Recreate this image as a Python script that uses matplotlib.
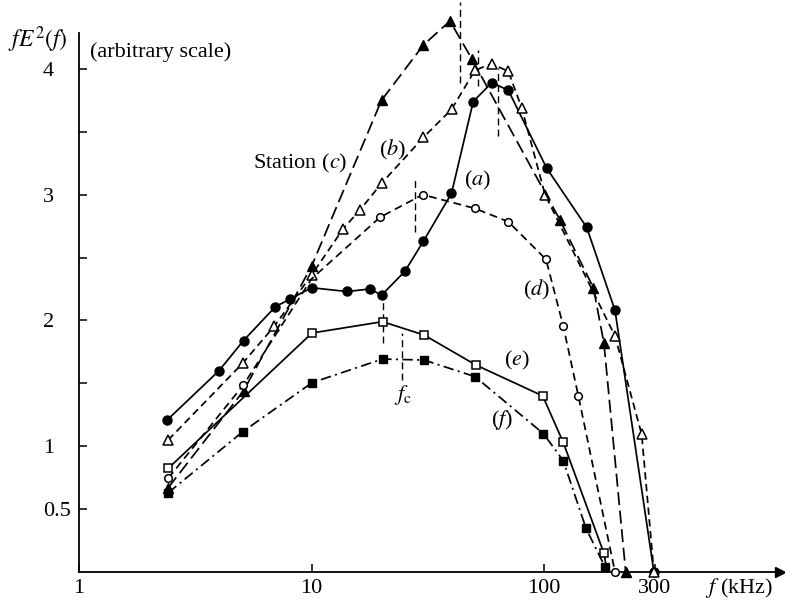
import matplotlib
matplotlib.use('Agg')
import matplotlib.pyplot as plt

plt.rcParams['font.family'] = 'Liberation Serif'
plt.rcParams['mathtext.fontset'] = 'stix'

# frequencies in kHz, fE^2(f) in arbitrary units
fa = [2.4, 4.0, 5.1, 7.0, 8.1, 10, 14.2, 17.9, 20, 25.2, 30.3, 40, 49.6, 59.6, 70.2, 102.7, 152.6, 202, 297]
ya = [1.21, 1.60, 1.84, 2.11, 2.17, 2.26, 2.23, 2.25, 2.20, 2.39, 2.63, 3.01, 3.74, 3.89, 3.83, 3.21, 2.74, 2.08, 0]

fb = [2.42, 5.06, 6.92, 10, 13.7, 16.2, 20, 30.3, 40.1, 50.5, 59.6, 70.2, 80.2, 101, 202, 263, 297]
yb = [1.05, 1.66, 1.955, 2.36, 2.73, 2.88, 3.09, 3.455, 3.68, 3.99, 4.04, 3.98, 3.69, 3.00, 1.876, 1.095, 0]

fc = [2.42, 5.1, 10, 20, 30.3, 39.4, 48.9, 117, 163, 181, 224.6]
yc = [0.67, 1.44, 2.43, 3.75, 4.19, 4.38, 4.08, 2.80, 2.26, 1.82, 0]

fd = [2.42, 5.09, 10, 19.7, 30.1, 50.5, 70.2, 102, 121, 140.5, 202]
yd = [0.745, 1.486, 2.33, 2.82, 3.00, 2.89, 2.785, 2.485, 1.955, 1.40, 0]

fe = [2.42, 10.05, 20.2, 30.5, 51, 98.7, 121, 181, 187]
ye = [0.824, 1.90, 1.99, 1.884, 1.645, 1.40, 1.03, 0.149, 0]

ff = [2.42, 5.06, 10.05, 20.2, 30.5, 50.5, 99.4, 121, 151.6, 183]
yf = [0.63, 1.115, 1.505, 1.693, 1.685, 1.553, 1.10, 0.885, 0.347, 0.04]

# short vertical dashed lines at the maxima
peak_f = [43.5, 52.2, 63.6, 27.9, 20.3, 24.4]
peak_top = [4.53, 4.15, 4.01, 3.14, 2.16, 1.90]
peak_bottom = [3.89, 3.86, 3.47, 2.70, 1.82, 1.53]

yticks = [0.5, 1, 1.5, 2, 2.5, 3, 3.5, 4]
yticklabels = ['0.5', '1', '', '2', '', '3', '', '4']
xticks = [1, 10, 100, 300]
xticklabels = ['1', '10', '100', '300']

fig = plt.figure(figsize=(7.85, 6.03), dpi=100)
ax = fig.add_axes([79 / 785, 31 / 603, 701 / 785, 539 / 603])
ax.set_xscale('log')
ax.set_xlim(1, 1035)
ax.set_ylim(0, 4.285)

lw = 1.25
# (a) solid, filled circles
ax.plot(fa, ya, '-', color='black', lw=lw, marker='o', ms=6.5, mfc='black', mec='black', zorder=3, clip_on=False)
# (b) dashed, open triangles
ax.plot(fb, yb, color='black', lw=lw, dashes=(4.2, 2.6), marker='^', ms=7, mfc='white', mec='black', mew=1.1,
        zorder=3, clip_on=False)
# (c) long dashes, filled triangles
ax.plot(fc, yc, color='black', lw=lw, dashes=(7.5, 3.2), marker='^', ms=7, mfc='black', mec='black',
        zorder=3, clip_on=False)
# (d) dashed, open circles (point at 10 kHz hidden under the others)
ax.plot(fd, yd, color='black', lw=lw, dashes=(4.5, 2.8), marker='o', ms=5.5, mfc='white', mec='black', mew=1.1,
        markevery=[0, 1, 3, 4, 5, 6, 7, 8, 9, 10], zorder=3, clip_on=False)
# (e) solid, open squares
ax.plot(fe, ye, '-', color='black', lw=lw, marker='s', ms=5.5, mfc='white', mec='black', mew=1.1,
        markevery=list(range(len(fe) - 1)), zorder=3, clip_on=False)
# (f) dash-dot, filled squares
ax.plot(ff, yf, color='black', lw=lw, dashes=(6, 2.5, 1.2, 2.5), marker='s', ms=5.5, mfc='black', mec='black',
        zorder=3, clip_on=False)

ax.vlines(peak_f, peak_bottom, peak_top, colors='black', lw=1.0, linestyles=(0, (5, 3)), clip_on=False)

# curve labels
fs = 16
ax.text(8.92, 3.25, 'Station ($c$)', fontsize=fs, ha='center', va='center')
ax.text(22.2, 3.355, '($b$)', fontsize=fs, ha='center', va='center')
ax.text(52.0, 3.116, '($a$)', fontsize=fs, ha='center', va='center')
ax.text(92.4, 2.24, '($d$)', fontsize=fs, ha='center', va='center')
ax.text(76.5, 1.685, '($e$)', fontsize=fs, ha='center', va='center')
ax.text(65.9, 1.21, '($f$)', fontsize=fs, ha='center', va='center')
ax.text(24.7, 1.41, '$f_{\\rm c}$', fontsize=fs, ha='center', va='center')

# axis titles
ax.text(0.667, 4.23, '$fE^{2}(f)$', fontsize=17, ha='center', va='center', clip_on=False)
ax.text(1.116, 4.13, '(arbitrary scale)', fontsize=fs, ha='left', va='center', clip_on=False)
ax.text(492, -0.127, '$f$ (kHz)', fontsize=fs, ha='left', va='center', clip_on=False)

ax.spines['top'].set_visible(False)
ax.spines['right'].set_visible(False)
ax.spines['left'].set_linewidth(1.3)
ax.spines['bottom'].set_linewidth(1.3)
ax.plot(1, 0, '>k', ms=7, transform=ax.get_yaxis_transform(), clip_on=False)
ax.plot(0, 1, '^k', ms=7, transform=ax.get_xaxis_transform(), clip_on=False)

ax.set_xticks(xticks)
ax.set_xticklabels(xticklabels)
ax.minorticks_off()
ax.set_yticks(yticks)
ax.set_yticklabels(yticklabels)
ax.tick_params(axis='both', direction='in', length=6, width=1.1, labelsize=fs)
ax.tick_params(axis='x', pad=5)
ax.tick_params(axis='y', pad=26)
for lbl in ax.get_yticklabels():
    lbl.set_horizontalalignment('left')

plt.savefig('out.png', dpi=100)
